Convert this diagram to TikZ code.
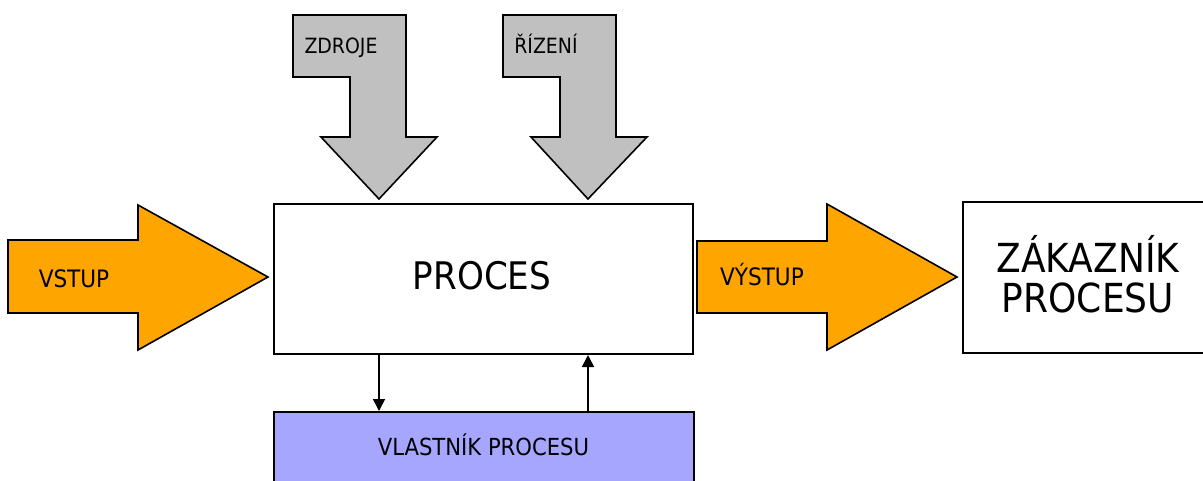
\documentclass[tikz,border=0pt]{standalone}
\usepackage{fontspec}
\setmainfont{DejaVu Sans Condensed}
\usetikzlibrary{arrows.meta}
\definecolor{flow}{RGB}{255,165,0}
\definecolor{ctrl}{RGB}{192,192,192}
\definecolor{owner}{RGB}{166,166,255}
\tikzset{
  outline/.style={draw=black, line width=1.6pt, line join=miter},
  box/.style={draw=black, line width=2pt, fill=white, inner sep=0pt, anchor=north west},
  lbl/.style={inner sep=0pt, anchor=base, font=\fontsize{24}{28}\selectfont},
  small/.style={inner sep=0pt, anchor=base, font=\fontsize{21}{25}\selectfont},
  conn/.style={line width=1.6pt, -{Triangle[length=12pt,width=12pt]}}
}
\begin{document}
\begin{tikzpicture}[x=1pt,y=-1pt]
  \clip (0,0) rectangle (1203,480);
  \fill[white] (0,0) rectangle (1203,480);

  % input and output flow arrows
  \filldraw[outline, fill=flow]
    (8,240) -- (138,240) -- (138,205) -- (268,277) -- (138,350) -- (138,313) -- (8,313) -- cycle;
  \filldraw[outline, fill=flow]
    (697,241) -- (827,241) -- (827,204) -- (957,277) -- (827,350) -- (827,313) -- (697,313) -- cycle;

  % resources and control arrows, bent down onto the process
  \filldraw[outline, fill=ctrl]
    (293,15) -- (406,15) -- (406,137) -- (437,137) -- (379,199) -- (321,137) -- (350,137) -- (350,77) -- (293,77) -- cycle;
  \filldraw[outline, fill=ctrl]
    (503,15) -- (616,15) -- (616,137) -- (647,137) -- (588,199) -- (531,137) -- (560,137) -- (560,77) -- (503,77) -- cycle;

  % boxes
  \node[box, minimum width=419pt, minimum height=150pt] (proc) at (273,203) {};
  \node[box, fill=owner, minimum width=420pt, minimum height=100pt] (own) at (273,411) {};
  \node[box, minimum width=260pt, minimum height=151pt] (cust) at (962,201) {};

  % labels
  \node[inner sep=0pt, anchor=base, font=\fontsize{38}{40}\selectfont] (proctext) at (482,289) {PROCES};
  \node[inner sep=0pt, align=center, font=\fontsize{40}{40}\selectfont] (custtext) at (1088,274.5) {ZÁKAZNÍK\\PROCESU};
  \node[lbl] (vstup) at (74,287) {VSTUP};
  \node[lbl] (vystup) at (762,285) {VÝSTUP};
  \node[lbl, font=\fontsize{23.5}{28}\selectfont] (owntext) at (483.5,455) {VLASTNÍK PROCESU};
  \node[small] (zdroje) at (341,53) {ZDROJE};
  \node[small] (rizeni) at (546,53) {ŘÍZENÍ};

  % links between the process and its owner
  \coordinate (dn) at (379,0);
  \coordinate (up) at (588,0);
  \draw[conn] (proc.south -| dn) -- (own.north -| dn);
  \draw[conn] (own.north -| up) -- (proc.south -| up);
\end{tikzpicture}
\end{document}
